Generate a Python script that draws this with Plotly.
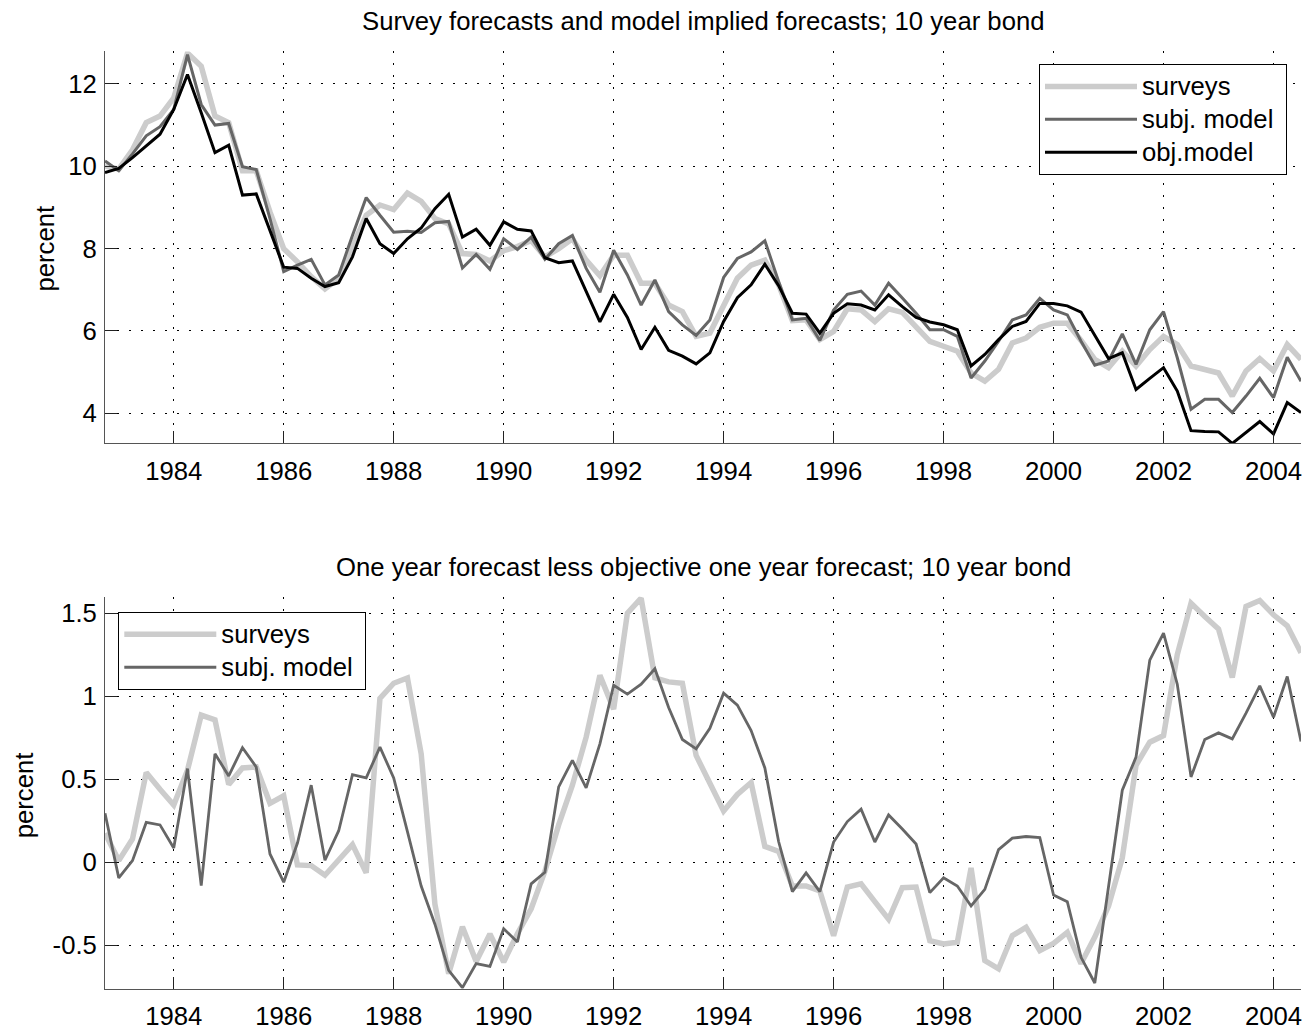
import numpy as np
import plotly.graph_objects as go

# quarterly dates 1982Q4 .. 2004Q3
start_year = 1982.75
n_quarters = 88
dates = [start_year + 0.25 * k for k in range(n_quarters)]

# ---- top panel: forecasts (percent) ----
top_surveys = [10.01, 9.93, 10.40, 11.06, 11.22, 11.66, 12.75, 12.43, 11.22, 11.06,
               9.89, 9.89, 8.89, 8.00, 7.68, 7.32, 7.02, 7.28, 8.05, 8.81,
               9.06, 8.95, 9.35, 9.15, 8.73, 8.60, 7.88, 7.86, 7.70, 7.95,
               8.05, 8.20, 7.80, 8.00, 8.24, 7.72, 7.34, 7.84, 7.84, 7.16,
               7.16, 6.63, 6.47, 5.87, 5.95, 6.63, 7.28, 7.60, 7.72, 7.12,
               6.25, 6.27, 5.79, 5.99, 6.54, 6.51, 6.23, 6.54, 6.45, 6.10,
               5.75, 5.63, 5.51, 4.98, 4.78, 5.07, 5.71, 5.83, 6.09, 6.19,
               6.19, 5.77, 5.31, 5.11, 5.51, 5.15, 5.55, 5.87, 5.67, 5.15,
               5.07, 4.98, 4.42, 5.03, 5.33, 5.03, 5.67, 5.31]
top_subj = [10.13, 9.89, 10.30, 10.74, 10.96, 11.38, 12.71, 11.50, 11.00, 11.04,
            9.99, 9.92, 8.73, 7.44, 7.60, 7.74, 7.12, 7.36, 8.32, 9.24,
            8.81, 8.40, 8.42, 8.39, 8.63, 8.66, 7.53, 7.86, 7.50, 8.24,
            7.98, 8.28, 7.74, 8.12, 8.32, 7.52, 6.94, 7.96, 7.36, 6.63,
            7.24, 6.47, 6.15, 5.89, 6.27, 7.30, 7.76, 7.92, 8.19, 7.20,
            6.27, 6.31, 5.77, 6.51, 6.89, 6.97, 6.63, 7.16, 6.80, 6.43,
            6.03, 6.03, 5.87, 4.86, 5.27, 5.75, 6.27, 6.39, 6.79, 6.51,
            6.39, 5.75, 5.17, 5.27, 5.93, 5.19, 6.03, 6.47, 5.35, 4.10,
            4.34, 4.34, 4.02, 4.42, 4.85, 4.38, 5.36, 4.78]
top_obj = [9.85, 9.95, 10.21, 10.50, 10.78, 11.38, 12.23, 11.30, 10.33, 10.51,
           9.30, 9.33, 8.44, 7.55, 7.52, 7.28, 7.08, 7.17, 7.80, 8.73,
           8.12, 7.88, 8.24, 8.50, 8.97, 9.32, 8.28, 8.47, 8.08, 8.65,
           8.47, 8.43, 7.78, 7.66, 7.70, 6.96, 6.22, 6.89, 6.33, 5.55,
           6.09, 5.53, 5.39, 5.20, 5.47, 6.23, 6.81, 7.12, 7.62, 7.10,
           6.43, 6.41, 5.95, 6.43, 6.66, 6.63, 6.51, 6.88, 6.59, 6.33,
           6.22, 6.15, 6.03, 5.15, 5.43, 5.79, 6.11, 6.23, 6.67, 6.67,
           6.61, 6.46, 5.91, 5.33, 5.47, 4.58, 4.85, 5.11, 4.54, 3.58,
           3.56, 3.55, 3.27, 3.54, 3.80, 3.50, 4.26, 4.02]

# ---- bottom panel: one-year forecast less objective forecast ----
bot_surveys = [0.175, 0.01, 0.14, 0.54, 0.44, 0.345, 0.554, 0.886, 0.857, 0.468,
               0.568, 0.574, 0.355, 0.40, -0.016, -0.02, -0.078, 0.01, 0.106, -0.064,
               0.986, 1.078, 1.11, 0.653, -0.253, -0.671, -0.388, -0.598, -0.432, -0.60,
               -0.43, -0.28, -0.054, 0.225, 0.464, 0.753, 1.125, 0.922, 1.50, 1.59,
               1.11, 1.086, 1.078, 0.643, 0.474, 0.309, 0.408, 0.48, 0.096, 0.066,
               -0.143, -0.143, -0.173, -0.442, -0.149, -0.13, -0.237, -0.343, -0.153, -0.149,
               -0.472, -0.492, -0.482, -0.034, -0.592, -0.641, -0.442, -0.392, -0.532, -0.488,
               -0.422, -0.61, -0.45, -0.263, 0.026, 0.584, 0.723, 0.763, 1.251, 1.56,
               1.48, 1.404, 1.112, 1.54, 1.576, 1.49, 1.424, 1.261]
bot_subj = [0.295, -0.094, 0.01, 0.24, 0.225, 0.086, 0.564, -0.14, 0.653, 0.52,
            0.69, 0.574, 0.05, -0.12, 0.116, 0.464, 0.012, 0.19, 0.528, 0.508,
            0.693, 0.508, 0.185, -0.143, -0.373, -0.651, -0.755, -0.61, -0.627, -0.40,
            -0.48, -0.13, -0.06, 0.454, 0.614, 0.448, 0.713, 1.066, 1.012, 1.072,
            1.165, 0.932, 0.739, 0.683, 0.807, 1.018, 0.946, 0.793, 0.568, 0.125,
            -0.177, -0.064, -0.177, 0.122, 0.245, 0.32, 0.122, 0.285, 0.20, 0.11,
            -0.183, -0.094, -0.143, -0.263, -0.163, 0.076, 0.145, 0.155, 0.149, -0.197,
            -0.237, -0.572, -0.727, -0.133, 0.434, 0.633, 1.217, 1.38, 1.072, 0.514,
            0.739, 0.779, 0.743, 0.898, 1.062, 0.873, 1.118, 0.727]

x_ticks = [1984, 1986, 1988, 1990, 1992, 1994, 1996, 1998, 2000, 2002, 2004]
top_yticks = [4, 6, 8, 10, 12]
bot_yticks = [-0.5, 0, 0.5, 1, 1.5]
bot_yticktext = ["-0.5", "0", "0.5", "1", "1.5"]

title_top = "Survey forecasts and model implied forecasts; 10 year bond"
title_bot = "One year forecast less objective one year forecast; 10 year bond"
names = ["surveys", "subj. model", "obj.model"]

W, H = 1304, 1030
L, R = 105, 3
FONT = "Liberation Sans, Arial, sans-serif"
FS = 25.7
LFS = 23  # controls legend row spacing


def lname(s):
    return '<span style="font-size:%.1fpx">%s\u00a0</span>' % (FS, s)


LIGHT = "#cccccc"
DARK = "#666666"


def py(px):
    return (H - px) / H


top_dom = [py(446), py(51.7)]
bot_dom = [py(994.3), py(600)]

fig = go.Figure()
fig.add_trace(go.Scatter(x=dates, y=top_surveys, mode="lines", name=lname(names[0]),
                         line=dict(color=LIGHT, width=5.5), xaxis="x", yaxis="y", legend="legend"))
fig.add_trace(go.Scatter(x=dates, y=top_subj, mode="lines", name=lname(names[1]),
                         line=dict(color=DARK, width=3), xaxis="x", yaxis="y", legend="legend"))
fig.add_trace(go.Scatter(x=dates, y=top_obj, mode="lines", name=lname(names[2]),
                         line=dict(color="#000000", width=3), xaxis="x", yaxis="y", legend="legend"))
fig.add_trace(go.Scatter(x=dates, y=bot_surveys, mode="lines", name=lname(names[0]),
                         line=dict(color=LIGHT, width=5.5), xaxis="x2", yaxis="y2", legend="legend2"))
fig.add_trace(go.Scatter(x=dates, y=bot_subj, mode="lines", name=lname(names[1]),
                         line=dict(color=DARK, width=2.8), xaxis="x2", yaxis="y2", legend="legend2"))

axis_common = dict(
    showline=True, linecolor="#555555", linewidth=1, mirror=False,
    ticks="inside", ticklen=12, tickwidth=1, tickcolor="#222222",
    showgrid=True, gridcolor="#000000", gridwidth=1, griddash="2px,10px",
    zeroline=False, tickfont=dict(family=FONT, size=FS, color="#000000"),
)
xr = [dates[0], dates[-1]]
legend_common = dict(xanchor="left", yanchor="top", bgcolor="white", bordercolor="#000000",
                     borderwidth=1, itemwidth=92, font=dict(family=FONT, size=LFS, color="#000000"),
                     tracegroupgap=0)
fig.update_layout(
    width=W, height=H,
    margin=dict(l=L, r=R, t=0, b=0),
    paper_bgcolor="white", plot_bgcolor="white",
    font=dict(family=FONT, size=FS, color="#000000"),
    xaxis=dict(domain=[0, 1], anchor="y", range=xr, tickvals=x_ticks, ticklabelstandoff=5, **axis_common),
    yaxis=dict(domain=top_dom, anchor="x", range=[3.27, 12.79], tickvals=top_yticks, ticklabelstandoff=2, **axis_common),
    xaxis2=dict(domain=[0, 1], anchor="y2", range=xr, tickvals=x_ticks, ticklabelstandoff=5, **axis_common),
    yaxis2=dict(domain=bot_dom, anchor="x2", range=[-0.76, 1.60], tickvals=bot_yticks,
                ticktext=bot_yticktext, ticklabelstandoff=2, **axis_common),
    legend=dict(x=(1039 - L) / (W - L - R), y=py(64.3), **legend_common),
    legend2=dict(x=(118.3 - L) / (W - L - R), y=py(615.5), **legend_common),
    showlegend=True,
    annotations=[
        dict(text=title_top, xref="paper", yref="paper", x=0.5, y=py(21),
             xanchor="center", yanchor="middle", showarrow=False, font=dict(size=FS)),
        dict(text=title_bot, xref="paper", yref="paper", x=0.5, y=py(570),
             xanchor="center", yanchor="middle", showarrow=False, font=dict(size=FS)),
        dict(text="percent", xref="paper", yref="paper", x=-(L - 45) / (W - L - R), y=py(250),
             xanchor="center", yanchor="middle", textangle=-90, showarrow=False, font=dict(size=FS)),
        dict(text="percent", xref="paper", yref="paper", x=-(L - 24) / (W - L - R), y=py(800),
             xanchor="center", yanchor="middle", textangle=-90, showarrow=False, font=dict(size=FS)),
    ],
)

fig.write_html(
    "out.html",
    config={"displayModeBar": False},
    post_script="document.body.style.margin='0';document.body.style.overflow='hidden';"
                "document.documentElement.style.overflow='hidden';",
)
